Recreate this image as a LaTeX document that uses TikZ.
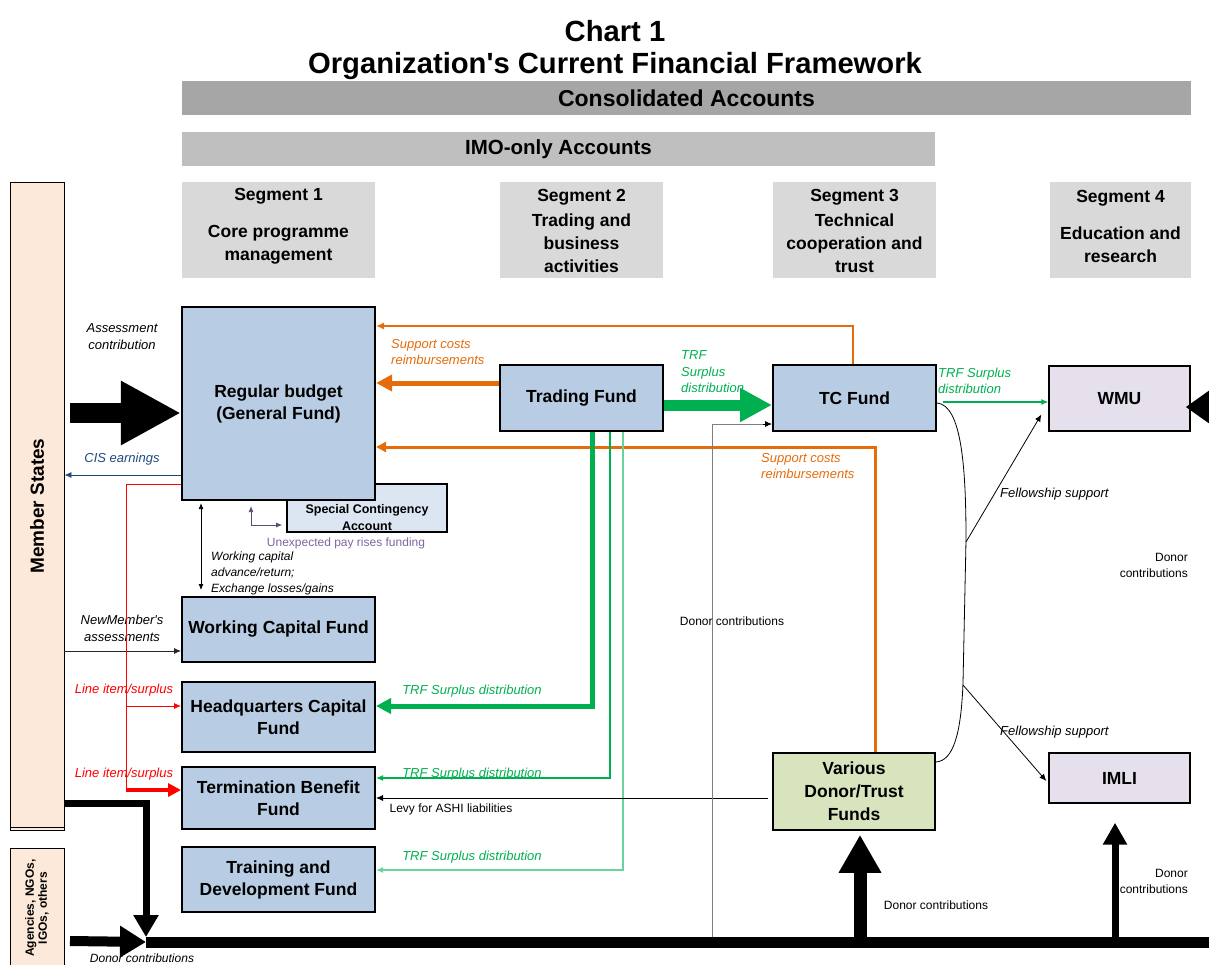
\documentclass[tikz,border=0pt]{standalone}
\usepackage{fontspec}
\setmainfont{Liberation Sans}[Ligatures=TeXOff]
\usetikzlibrary{arrows.meta}

\definecolor{fundblue}{HTML}{B8CCE4}
\definecolor{scablue}{HTML}{DCE6F2}
\definecolor{peach}{HTML}{FDE9D9}
\definecolor{donorgreen}{HTML}{D7E4BD}
\definecolor{lavender}{HTML}{E5E0EC}
\definecolor{consgray}{HTML}{A6A6A6}
\definecolor{imogray}{HTML}{BFBFBF}
\definecolor{seggray}{HTML}{D9D9D9}
\definecolor{orangeline}{HTML}{E46C0A}
\definecolor{greenline}{HTML}{00B050}
\definecolor{lightgreenline}{HTML}{6AD29A}
\definecolor{cisblue}{HTML}{1F497D}
\definecolor{purpletext}{HTML}{8064A2}
\definecolor{purpleline}{HTML}{604A7B}
\definecolor{donorgray}{HTML}{7F7F7F}

\tikzset{
  fund/.style={draw, line width=2pt, fill=fundblue, align=center, inner sep=0pt,
    font=\bfseries\fontsize{17.5}{22}\selectfont},
  unit/.style={draw, line width=1.4pt, fill=lavender, align=center, inner sep=0pt,
    font=\bfseries\fontsize{17.5}{22}\selectfont},
  segbox/.style={fill=seggray, inner sep=0pt, minimum height=96pt},
  segtext/.style={inner sep=0pt, align=center, font=\bfseries\fontsize{17.5}{23}\selectfont},
  lbl/.style={inner sep=0pt, align=center, font=\itshape\fontsize{13}{17}\selectfont},
  lblleft/.style={inner sep=0pt, align=left, anchor=west, font=\itshape\fontsize{13}{16.5}\selectfont},
  plainlbl/.style={inner sep=0pt, align=center, font=\fontsize{12}{16}\selectfont},
  thinarrow/.style={line width=0.8pt, -{Latex[length=7pt,width=6pt]}},
}

\begin{document}
\begin{tikzpicture}[x=1pt, y=-1pt]
\useasboundingbox (0,0) rectangle (1209,965);

% ---------- titles and account bands ----------
\node[font=\bfseries\fontsize{29.2}{32}\selectfont, inner sep=0pt] (title1) at (615,31) {Chart 1};
\node[font=\bfseries\fontsize{29.2}{32}\selectfont, inner sep=0pt] (title2) at (615,66) {Organization's Current Financial Framework};

\node[fill=consgray, minimum width=1009pt, minimum height=34pt, inner sep=0pt,
      font=\bfseries\fontsize{23}{26}\selectfont] (cons) at (686.5,98) {Consolidated Accounts};
\node[fill=imogray, minimum width=753pt, minimum height=34pt, inner sep=0pt,
      font=\bfseries\fontsize{20.5}{24}\selectfont] (imo) at (558.5,149) {IMO-only Accounts};

% ---------- segment headers ----------
\node[segbox, minimum width=193pt] (seg1) at (278.5,230) {};
\node[segbox, minimum width=163pt] (seg2) at (581.5,230) {};
\node[segbox, minimum width=163pt] (seg3) at (854.5,230) {};
\node[segbox, minimum width=141pt] (seg4) at (1120.5,230) {};
\node[segtext] (seg1t) at (278.5,226) {Segment 1\\[14pt]Core programme\\management};
\node[segtext] (seg2t) at (581.5,231) {Segment 2\\[2pt]Trading and\\business\\activities};
\node[segtext] (seg3t) at (854.5,231) {Segment 3\\[2pt]Technical\\cooperation and\\trust};
\node[segtext] (seg4t) at (1120.5,226) {Segment 4\\[14pt]Education and\\research};

% ---------- contributors ----------
\node[draw, line width=0.8pt, fill=peach, minimum width=54pt, minimum height=648pt, inner sep=0pt] (MS) at (37,506) {};
\draw[line width=0.8pt] (MS.south west) ++(0,-3) -- ++(54,0);
\node[rotate=90, inner sep=0pt, font=\bfseries\fontsize{19}{22}\selectfont] (MStext) at (37,506) {Member States};
\node[draw, line width=0.8pt, fill=peach, minimum width=54pt, minimum height=130pt, inner sep=0pt] (AG) at (37,913) {};
\node[rotate=90, inner sep=0pt, align=center, font=\bfseries\fontsize{12}{13}\selectfont] (AGtext) at (37,908) {Agencies, NGOs,\\IGOs, others};

% ---------- funds ----------
\node[draw, line width=1.6pt, fill=scablue, minimum width=160pt, minimum height=48pt, inner sep=0pt] (SCA) at (367,508) {};
\node[inner sep=0pt, align=center, font=\bfseries\fontsize{12.5}{17}\selectfont] (SCAtext) at (367,518) {Special Contingency\\Account};
\node[fund, line width=2.2pt, minimum width=193pt, minimum height=193pt] (RB) at (278.5,403.5) {Regular budget\\(General Fund)};
\node[fund, minimum width=193pt, minimum height=65pt] (WCF) at (278.5,629.5) {Working Capital Fund};
\node[fund, minimum width=193pt, minimum height=70pt] (HQ) at (278.5,717) {Headquarters Capital\\Fund};
\node[fund, minimum width=193pt, minimum height=62pt] (TBF) at (278.5,798) {Termination Benefit\\Fund};
\node[fund, minimum width=193pt, minimum height=65pt] (TDF) at (278.5,879.5) {Training and\\Development Fund};
\node[fund, minimum width=163pt, minimum height=66pt] (TF) at (581.5,398) {Trading Fund};
\node[fund, minimum width=163pt, minimum height=66pt] (TC) at (854.5,398) {TC Fund};
\node[fund, line width=1.5pt, fill=donorgreen, minimum width=162pt, minimum height=77pt,
      font=\bfseries\fontsize{17.5}{23}\selectfont] (VD) at (854,791.5) {Various\\Donor/Trust\\Funds};
\node[unit, minimum width=141pt, minimum height=65pt] (WMU) at (1119.5,398.5) {WMU};
\node[unit, minimum width=141pt, minimum height=50pt] (IMLI) at (1119.5,778) {IMLI};

% ---------- Member States flows ----------
\coordinate (assessStart) at (70,413);
\draw[line width=20pt, -{Triangle[length=60pt,width=60pt]}] (assessStart) -- (RB.west |- assessStart);
\node[lbl] (assessLbl) at (122,337) {Assessment\\contribution};

\draw[cisblue, thinarrow] (RB.west |- 0,475) -- (MS.east |- 0,475);
\node[lbl, text=cisblue] (cisLbl) at (122,459) {CIS earnings};

\draw[black!85, thinarrow] (MS.east |- 0,651) -- (WCF.west |- 0,651);
\node[lbl] (newLbl) at (122,628) {NewMember's\\assessments};

% line item / surplus from the regular budget
\draw[red, line width=0.9pt] (RB.west |- 0,484) -- (126,484) -- (126,790);
\draw[red, thinarrow] (126,706) -- (HQ.west |- 0,706);
\draw[red, line width=4pt, -{Triangle[length=13pt,width=13pt]}] (126,790) -- (TBF.west |- 0,790);
\node[lbl, text=red] (li1) at (124,690) {Line item/surplus};
\node[lbl, text=red] (li2) at (124,774) {Line item/surplus};

% working capital advance/return
\draw[line width=0.8pt, {Latex[length=6pt,width=5pt]}-{Latex[length=6pt,width=5pt]}, shorten <=2pt, shorten >=6pt]
  (RB.south -| 201,0) -- (WCF.north -| 201,0);
\node[lblleft, font=\itshape\fontsize{12}{16}\selectfont] (wcLbl) at (211,573) {Working capital\\advance/return;\\Exchange losses/gains};

% special contingency account
\draw[purpleline, line width=0.8pt, {Latex[length=6pt,width=5pt]}-{Latex[length=6pt,width=5pt]}, shorten <=5pt, shorten >=4pt]
  (RB.south -| 251,0) -- (251,525) -- (SCA.west |- 0,525);
\node[inner sep=0pt, text=purpletext, font=\fontsize{12}{15}\selectfont] (payLbl) at (346,543) {Unexpected pay rises funding};

% ---------- support cost reimbursements ----------
\draw[orangeline, line width=1.1pt, -{Latex[length=8pt,width=7pt]}] (TC.north -| 853,0) -- (853,326) -- (RB.east |- 0,326);
\node[lblleft, text=orangeline] (sc1) at (391,352) {Support costs\\reimbursements};
\draw[orangeline, line width=5pt, -{Triangle[length=16pt,width=16pt]}] (TF.west |- 0,383) -- (RB.east |- 0,383);
\draw[orangeline, line width=3pt, -{Triangle[length=10pt,width=10pt]}] (VD.north -| 875,0) -- (875,447) -- (RB.east |- 0,447);
\node[lblleft, text=orangeline] (sc2) at (761,466) {Support costs\\reimbursements};

% ---------- trading fund surplus distribution ----------
\draw[greenline, line width=11pt, -{Triangle[length=32pt,width=32pt]}] (TF.east |- 0,405) -- (TC.west |- 0,405);
\node[lblleft, text=greenline] (trf0) at (681,372) {TRF\\Surplus\\distribution};
\draw[greenline, line width=5pt, -{Triangle[length=15pt,width=15pt]}] (TF.south -| 592,0) -- (592,706) -- (HQ.east |- 0,706);
\draw[greenline, line width=1.1pt, -{Latex[length=7pt,width=6pt]}] (TF.south -| 610,0) -- (610,778) -- (TBF.east |- 0,778);
\draw[lightgreenline, line width=1.1pt, -{Latex[length=7pt,width=6pt]}] (TF.south -| 623,0) -- (623,870) -- (TDF.east |- 0,870);
\node[lbl, text=greenline] (trf1) at (472,691) {TRF Surplus distribution};
\node[lbl, text=greenline] (trf2) at (472,774) {TRF Surplus distribution};
\node[lbl, text=greenline] (trf3) at (472,857) {TRF Surplus distribution};

\draw[greenline, line width=1.1pt, -{Latex[length=7pt,width=6pt]}, shorten <=6pt] (TC.east |- 0,402) -- (WMU.west |- 0,402);
\node[lblleft, text=greenline] (trf4) at (938,381) {TRF Surplus\\distribution};

% ---------- levy ----------
\draw[thinarrow, shorten <=4pt] (VD.west |- 0,798) -- (TBF.east |- 0,798);
\node[plainlbl] (levyLbl) at (451,809) {Levy for ASHI liabilities};

% ---------- fellowship support ----------
\draw[line width=0.8pt] (TC.east |- 0,403) .. controls (962,405) and (966,470) .. (966,540)
  -- (963,683) .. controls (961,735) and (953,761) .. (VD.east |- 0,762);
\coordinate (fellow1) at (966,542);
\coordinate (fellow2) at (963,685);
\draw[thinarrow] (fellow1) -- ([xshift=-7pt,yshift=-16pt]WMU.west);
\draw[thinarrow] (fellow2) -- ([xshift=-2pt,yshift=-3pt]IMLI.west);
\node[lblleft] (fs1) at (1000,494) {Fellowship support};
\node[lblleft] (fs2) at (1000,732) {Fellowship support};

% ---------- donor contributions ----------
\coordinate (botL) at (146,942);
\coordinate (botR) at (1209,942);
\draw[line width=11pt] (botL) -- (botR);

\draw[donorgray, line width=1pt] (712,937) -- (712,424) -- ([xshift=-8pt]TC.west |- 0,424);
\draw[-{Latex[length=7pt,width=6pt]}, line width=0.8pt] ([xshift=-9pt]TC.west |- 0,424) -- (TC.west |- 0,424);
\node[plainlbl] (dc1) at (732,621) {Donor contributions};

\draw[line width=7pt, -{Triangle[length=22pt,width=24pt]}, shorten >=5pt] (MS.east |- 0,803) -- (146,803) -- (botL);
\coordinate (agStart) at (70,941);
\draw[line width=10pt, -{Triangle[length=26pt,width=30pt]}] (agStart) -- (botL);
\node[lbl, font=\itshape\fontsize{12}{15}\selectfont] (dc0) at (142,958) {Donor contributions};

\coordinate (vdFoot) at (860,942);
\draw[line width=13pt, -{Triangle[length=38pt,width=40pt]}, shorten >=4pt] (vdFoot) -- (VD.south -| vdFoot);
\node[plainlbl] (dc2) at (936,905) {Donor contributions};

\coordinate (imliFoot) at (1115,942);
\draw[line width=7pt, -{Triangle[length=22pt,width=23pt]}, shorten >=19pt] (imliFoot) -- (IMLI.south -| imliFoot);
\node[plainlbl, align=right, anchor=east] (dc3) at (1188,881) {Donor\\contributions};

\coordinate (wmuFeed) at (1240,407);
\draw[line width=8pt, -{Triangle[length=24pt,width=32pt]}] (wmuFeed) -- ([xshift=-5pt]WMU.east |- wmuFeed);
\node[plainlbl, align=right, anchor=east] (dc4) at (1188,565) {Donor\\contributions};

\end{tikzpicture}
\end{document}
